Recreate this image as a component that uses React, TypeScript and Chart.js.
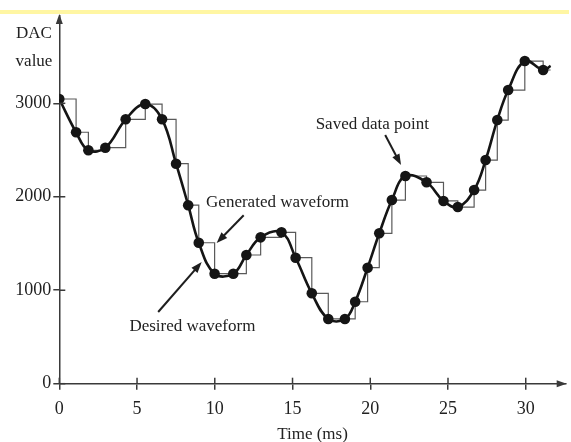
import React, { useEffect, useRef } from 'react';
import { Chart, registerables } from 'chart.js';

Chart.register(...registerables);

// Sample times (ms) and saved DAC values
const sampleTimes = [0, 1.08, 1.87, 2.96, 4.27, 5.53, 6.61, 7.51, 8.29, 8.97, 9.99, 11.19, 12.03, 12.95, 14.29, 15.2, 16.24, 17.3, 18.37, 19.03, 19.83, 20.58, 21.39, 22.26, 23.62, 24.71, 25.63, 26.68, 27.42, 28.17, 28.87, 29.94, 31.12];
const sampleValues = [3046, 2690, 2497, 2525, 2829, 2992, 2829, 2354, 1910, 1508, 1177, 1177, 1377, 1566, 1620, 1348, 967, 693, 693, 877, 1241, 1609, 1965, 2222, 2155, 1955, 1890, 2072, 2393, 2821, 3142, 3452, 3356];

// tail of the drawn traces past the last sample
const curveEndTime = 31.6;
const curveEndValue = 3400;
const stepEndTime = 31.6;

const xTickValues = [0, 5, 10, 15, 20, 25, 30];
const yTickValues = [0, 1000, 2000, 3000];
const xMax = 32.57;
const yMax = 3934;

const xTitle = 'Time (ms)';
const yTitleLines = ['DAC', 'value'];

// annotations: [text, textX, textY, arrowFromX, arrowFromY, arrowToX, arrowToY] in data units
const annotations: [string, number, number, number, number, number, number][] = [
  ['Generated waveform', 14.04, 1933, 11.86, 1802, 10.12, 1505],
  ['Desired waveform', 8.56, 607, 6.36, 767, 9.16, 1302],
  ['Saved data point', 20.13, 2768, 20.96, 2661, 21.98, 2340],
];

const FONT = "'Liberation Serif', 'Times New Roman', serif";
const AXIS = '#3a3a3a';
const TEXT = '#222222';

function arrowHead(ctx: CanvasRenderingContext2D, x1: number, y1: number, x2: number, y2: number, len: number, half: number) {
  const ang = Math.atan2(y2 - y1, x2 - x1);
  ctx.beginPath();
  ctx.moveTo(x2, y2);
  ctx.lineTo(x2 - len * Math.cos(ang) + half * Math.sin(ang), y2 - len * Math.sin(ang) - half * Math.cos(ang));
  ctx.lineTo(x2 - len * Math.cos(ang) - half * Math.sin(ang), y2 - len * Math.sin(ang) + half * Math.cos(ang));
  ctx.closePath();
  ctx.fill();
}

const decor = {
  id: 'decor',
  beforeDraw(chart: any) {
    const { ctx, width, height } = chart;
    ctx.save();
    ctx.fillStyle = '#ffffff';
    ctx.fillRect(0, 0, width, height);
    ctx.fillStyle = '#fff6a3';
    ctx.fillRect(0, 10, width - 2, 4);
    ctx.restore();
  },
  afterDraw(chart: any) {
    const { ctx, chartArea } = chart;
    const xs = chart.scales.x;
    const ys = chart.scales.y;
    ctx.save();
    ctx.strokeStyle = AXIS;
    ctx.fillStyle = AXIS;
    ctx.lineWidth = 1.5;
    // inward halves of tick marks
    for (const v of xTickValues) {
      const px = xs.getPixelForValue(v);
      ctx.beginPath();
      ctx.moveTo(px, chartArea.bottom);
      ctx.lineTo(px, chartArea.bottom - 6);
      ctx.stroke();
    }
    for (const v of yTickValues) {
      const py = ys.getPixelForValue(v);
      ctx.beginPath();
      ctx.moveTo(chartArea.left, py);
      ctx.lineTo(chartArea.left + 6, py);
      ctx.stroke();
    }
    // axis arrows
    arrowHead(ctx, chartArea.left, chartArea.top + 20, chartArea.left, chartArea.top - 2, 10, 3.5);
    arrowHead(ctx, chartArea.right - 20, chartArea.bottom, chartArea.right + 1, chartArea.bottom, 10, 3.5);

    // y title
    ctx.fillStyle = TEXT;
    ctx.font = `17px ${FONT}`;
    ctx.textAlign = 'center';
    ctx.textBaseline = 'middle';
    ctx.fillText(yTitleLines[0], 34, 34);
    ctx.fillText(yTitleLines[1], 34, 62);

    // annotations
    ctx.strokeStyle = '#1e1e1e';
    ctx.lineWidth = 2;
    for (const [label, tx, ty, fx, fy, hx, hy] of annotations) {
      ctx.fillStyle = TEXT;
      ctx.fillText(label, xs.getPixelForValue(tx), ys.getPixelForValue(ty));
      const x1 = xs.getPixelForValue(fx), y1 = ys.getPixelForValue(fy);
      const x2 = xs.getPixelForValue(hx), y2 = ys.getPixelForValue(hy);
      const ang = Math.atan2(y2 - y1, x2 - x1);
      ctx.beginPath();
      ctx.moveTo(x1, y1);
      ctx.lineTo(x2 - 8 * Math.cos(ang), y2 - 8 * Math.sin(ang));
      ctx.stroke();
      ctx.fillStyle = '#1e1e1e';
      arrowHead(ctx, x1, y1, x2, y2, 11, 4);
    }
    ctx.restore();
  },
};

export default function App() {
  const ref = useRef<HTMLCanvasElement | null>(null);

  useEffect(() => {
    if (!ref.current) return;
    const samples = sampleTimes.map((t, i) => ({ x: t, y: sampleValues[i] }));
    const curve = [...samples, { x: curveEndTime, y: curveEndValue }];
    const steps = [...samples, { x: stepEndTime, y: sampleValues[sampleValues.length - 1] }];

    const chart = new Chart(ref.current, {
      type: 'line',
      data: {
        datasets: [
          {
            label: 'Saved data point',
            data: samples,
            showLine: false,
            pointRadius: 5.3,
            pointBackgroundColor: '#151515',
            pointBorderColor: '#151515',
            pointBorderWidth: 0,
          },
          {
            label: 'Desired waveform',
            data: curve,
            borderColor: '#151515',
            borderWidth: 2.6,
            tension: 0.4,
            pointRadius: 0,
            fill: false,
          },
          {
            label: 'Generated waveform',
            data: steps,
            stepped: 'before',
            borderColor: '#5a5a5a',
            borderWidth: 1.2,
            pointRadius: 0,
            fill: false,
          },
        ] as any,
      },
      options: {
        responsive: false,
        animation: false,
        events: [],
        layout: { padding: { top: 16, right: 1, left: 0, bottom: 0 } },
        plugins: { legend: { display: false }, tooltip: { enabled: false }, title: { display: false } },
        scales: {
          x: {
            type: 'linear',
            min: 0,
            max: xMax,
            afterFit: (s: any) => { s.height = 58.3; },
            afterBuildTicks: (s: any) => { s.ticks = xTickValues.map((v) => ({ value: v })); },
            ticks: { includeBounds: false, color: TEXT, padding: 9, font: { family: FONT, size: 18 }, maxRotation: 0, callback: (v: any) => String(v) },
            grid: { drawOnChartArea: false, drawTicks: true, tickLength: 6, color: AXIS, lineWidth: 1.5 },
            border: { display: true, color: AXIS, width: 1.5 },
            title: { display: true, text: xTitle, color: TEXT, font: { family: FONT, size: 17 }, padding: { top: 0, bottom: -3 } },
          },
          y: {
            type: 'linear',
            min: 0,
            max: yMax,
            afterFit: (s: any) => { s.width = 59.3; },
            afterBuildTicks: (s: any) => { s.ticks = yTickValues.map((v) => ({ value: v })); },
            ticks: { includeBounds: false, color: TEXT, padding: 2, font: { family: FONT, size: 18 }, callback: (v: any) => String(v) },
            grid: { drawOnChartArea: false, drawTicks: true, tickLength: 6, color: AXIS, lineWidth: 1.5 },
            border: { display: true, color: AXIS, width: 1.5 },
          },
        },
      },
      plugins: [decor],
    });
    return () => chart.destroy();
  }, []);

  return (
    <div style={{ position: 'fixed', left: 0, top: 0, width: 571, height: 442, background: '#fff' }}>
      <canvas ref={ref} width={571} height={442} style={{ display: 'block' }} />
    </div>
  );
}
